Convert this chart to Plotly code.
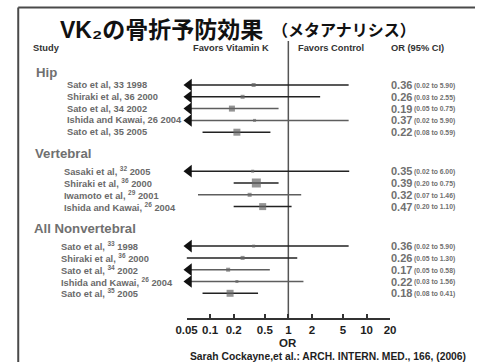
import math
import plotly.graph_objects as go

# ---- data -------------------------------------------------------------
group_names = ["Hip", "Vertebral", "All Nonvertebral"]

hip_studies = ["Sato et al, 33 1998", "Shiraki et al, 36 2000", "Sato et al, 34 2002",
               "Ishida and Kawai, 26 2004", "Sato et al, 35 2005"]
hip_or = [0.36, 0.26, 0.19, 0.37, 0.22]
hip_low = [0.02, 0.03, 0.05, 0.02, 0.08]
hip_high = [5.90, 2.55, 0.75, 5.90, 0.59]
hip_weight = [4, 4, 6, 3, 7]
hip_open_left = [True, True, True, True, False]

vert_studies = ["Sasaki et al, <sup>32</sup> 2005", "Shiraki et al, <sup>36</sup> 2000",
                "Iwamoto et al, <sup>29</sup> 2001", "Ishida and Kawai, <sup>26</sup> 2004"]
vert_or = [0.35, 0.39, 0.32, 0.47]
vert_low = [0.02, 0.20, 0.07, 0.20]
vert_high = [6.00, 0.75, 1.46, 1.10]
vert_weight = [3, 9, 4, 7]
vert_open_left = [True, False, False, False]

nonvert_studies = ["Sato et al, <sup>33</sup> 1998", "Shiraki et al, <sup>36</sup> 2000",
                   "Sato et al, <sup>34</sup> 2002", "Ishida and Kawai, <sup>26</sup> 2004",
                   "Sato et al, <sup>35</sup> 2005"]
nonvert_or = [0.36, 0.26, 0.17, 0.22, 0.18]
nonvert_low = [0.02, 0.05, 0.05, 0.03, 0.08]
nonvert_high = [5.90, 1.30, 0.58, 1.56, 0.41]
nonvert_weight = [3, 4, 4, 3, 7]
nonvert_open_left = [True, False, True, True, False]

tick_values = [0.05, 0.1, 0.2, 0.5, 1, 2, 5, 10, 20]
tick_labels = ["0.05", "0.1", "0.2", "0.5", "1", "2", "5", "10", "20"]

# ---- layout constants -------------------------------------------------
W, H = 481, 362
AX_LEFT, AX_RIGHT = 182, 393        # pixel span of the OR axis
AX_Y = 318                          # pixel row of the OR axis line
ROW_STEP = 11.8
HEAD_TO_ROW = [12.5, 17.5, 18]
ROW_TO_HEAD = 21.5
FIRST_HEAD = 72.5
GROUP_X = [24, 23, 22]
STUDY_X = [56, 53, 50]
OR_X = 392
CI_X = 416
FRAME = 7.5

SANS = "Liberation Sans, Arial, sans-serif"
TITLE_FONT = "Liberation Sans, Noto Sans CJK JP, sans-serif"
LABEL_GREY = "#6a6a6a"
VALUE_GREY = "#707070"
DARK = "#1e1e1e"
LINE_DARK = "#222222"
LINE_GREY = "#5e5e5e"
SQUARE = "#666666"

groups = [
    (hip_studies, hip_or, hip_low, hip_high, hip_weight, hip_open_left, [False, False, True, True, False]),
    (vert_studies, vert_or, vert_low, vert_high, vert_weight, vert_open_left, [False, False, True, False]),
    (nonvert_studies, nonvert_or, nonvert_low, nonvert_high, nonvert_weight, nonvert_open_left,
     [False, False, True, True, False]),
]

xmin, xmax = math.log10(tick_values[0]), math.log10(tick_values[-1])
px_per_dec = (AX_RIGHT - AX_LEFT) / (xmax - xmin)


def px(p):
    return p / W


def py(p):
    return 1 - p / H


fig = go.Figure()
annotations = []

dark_x, dark_y, grey_x, grey_y = [], [], [], []
sq_x, sq_y, sq_s = [], [], []
arr_x, arr_y = [], []

y = FIRST_HEAD
for gi, (names, ors, lows, highs, weights, open_left, grey_rows) in enumerate(groups):
    if gi > 0:
        y += ROW_TO_HEAD
    annotations.append(dict(x=px(GROUP_X[gi]), y=y, xref="paper", yref="y", text=group_names[gi],
                            showarrow=False, xanchor="left", yanchor="middle",
                            font=dict(family=SANS, size=13.2, color=VALUE_GREY, weight="bold")))
    y += HEAD_TO_ROW[gi]
    for i, name in enumerate(names):
        if i > 0:
            y += ROW_STEP
        start = tick_values[0] if open_left[i] else lows[i]
        lx, ly = (grey_x, grey_y) if grey_rows[i] else (dark_x, dark_y)
        lx += [start, highs[i], None]
        ly += [y, y, None]
        sq_x.append(ors[i]); sq_y.append(y); sq_s.append(weights[i])
        if open_left[i]:
            arr_x.append(10 ** (xmin + 2.5 / px_per_dec))
            arr_y.append(y)
        annotations.append(dict(x=px(STUDY_X[gi]), y=y, xref="paper", yref="y", text=name,
                                showarrow=False, xanchor="left", yanchor="middle",
                                font=dict(family=SANS, size=9.3, color=LABEL_GREY, weight="bold")))
        annotations.append(dict(x=px(OR_X), y=y, xref="paper", yref="y", text=f"{ors[i]:.2f}",
                                showarrow=False, xanchor="left", yanchor="middle",
                                font=dict(family=SANS, size=11, color=VALUE_GREY, weight="bold")))
        annotations.append(dict(x=px(CI_X), y=y + 0.8, xref="paper", yref="y",
                                text=f"({lows[i]:.2f} to {highs[i]:.2f})",
                                showarrow=False, xanchor="left", yanchor="middle",
                                font=dict(family=SANS, size=6.8, color=VALUE_GREY, weight="bold")))

fig.add_trace(go.Scatter(x=dark_x, y=dark_y, mode="lines", line=dict(color=LINE_DARK, width=1.5),
                         hoverinfo="skip", cliponaxis=False))
fig.add_trace(go.Scatter(x=grey_x, y=grey_y, mode="lines", line=dict(color=LINE_GREY, width=1.5),
                         hoverinfo="skip", cliponaxis=False))
fig.add_trace(go.Scatter(x=sq_x, y=sq_y, mode="markers",
                         marker=dict(symbol="square", size=sq_s, color=SQUARE, line=dict(width=0)),
                         hoverinfo="skip", cliponaxis=False))
fig.add_trace(go.Scatter(x=arr_x, y=arr_y, mode="markers",
                         marker=dict(symbol="triangle-left", size=11, color="#111111", line=dict(width=0)),
                         hoverinfo="skip", cliponaxis=False))

# line of no effect
fig.add_shape(type="line", xref="x", yref="y", x0=1, x1=1, y0=41, y1=AX_Y,
              line=dict(color="#555555", width=1.5), layer="below")

# slide frame (left and top edges; the right and bottom run off the page)
fig.add_shape(type="line", xref="paper", yref="paper", x0=px(FRAME), x1=px(FRAME), y0=0, y1=py(FRAME),
              line=dict(color="#4a4a4a", width=2), layer="above")
fig.add_shape(type="line", xref="paper", yref="paper", x0=px(FRAME), x1=1, y0=py(FRAME), y1=py(FRAME),
              line=dict(color="#4a4a4a", width=2), layer="above")

# title
annotations.append(dict(x=px(263), y=py(30), xref="paper", yref="paper",
                        text="VK₂の骨折予防効果", showarrow=False,
                        xanchor="right", yanchor="middle",
                        font=dict(family=TITLE_FONT, size=23, color="#111111", weight="bold")))
annotations.append(dict(x=px(268), y=py(30), xref="paper", yref="paper",
                        text="（メタアナリシス）", showarrow=False,
                        xanchor="left", yanchor="middle",
                        font=dict(family=TITLE_FONT, size=16, color="#111111", weight="bold")))

# column headings
head_font = dict(family=SANS, size=9.3, color="#333333", weight="bold")
annotations += [
    dict(x=px(21), y=47.5, xref="paper", yref="y", text="Study", showarrow=False,
         xanchor="left", yanchor="middle", font=head_font),
    dict(x=px(270), y=47.5, xref="paper", yref="y", text="Favors Vitamin K", showarrow=False,
         xanchor="right", yanchor="middle", font=head_font),
    dict(x=px(295), y=47.5, xref="paper", yref="y", text="Favors Control", showarrow=False,
         xanchor="left", yanchor="middle", font=head_font),
    dict(x=px(392), y=47.5, xref="paper", yref="y", text="OR (95% CI)", showarrow=False,
         xanchor="left", yanchor="middle", font=head_font),
]

# axis title and citation
annotations.append(dict(x=px(287), y=py(343), xref="paper", yref="paper", text="OR", showarrow=False,
                        xanchor="center", yanchor="middle",
                        font=dict(family=SANS, size=11.5, color=DARK, weight="bold")))
annotations.append(dict(x=px(329), y=py(356.5), xref="paper", yref="paper",
                        text="Sarah Cockayne,et al.: ARCH. INTERN. MED., 166, (2006)", showarrow=False,
                        xanchor="center", yanchor="middle",
                        font=dict(family=SANS, size=10.3, color=DARK, weight="bold")))

fig.update_layout(
    width=W, height=H, margin=dict(l=0, r=0, t=0, b=0),
    paper_bgcolor="white", plot_bgcolor="white", showlegend=False,
    annotations=annotations,
    xaxis=dict(type="log", domain=[AX_LEFT / W, AX_RIGHT / W], range=[xmin, xmax],
               tickvals=tick_values, ticktext=tick_labels, ticks="inside", ticklen=4,
               tickwidth=1.5, tickcolor="#333333", showline=True, linecolor="#333333", linewidth=1.5,
               showgrid=False, zeroline=False, anchor="y",
               tickfont=dict(family=SANS, size=11.5, color=DARK, weight="bold")),
    yaxis=dict(domain=[(H - AX_Y) / H, 1], range=[AX_Y, 0], visible=False, showgrid=False,
               zeroline=False),
)

fig.write_html("out.html")
